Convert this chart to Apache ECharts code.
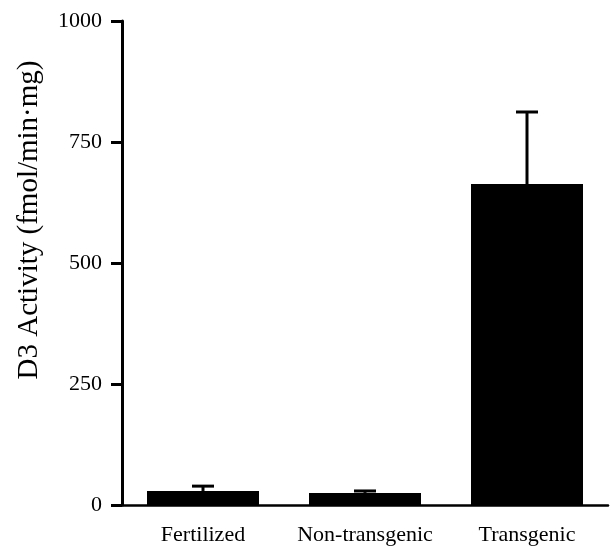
<!DOCTYPE html>
<html>
<head>
<meta charset="utf-8">
<script src="https://cdn.jsdelivr.net/npm/echarts@6/dist/echarts.min.js"></script>
<style>html,body{margin:0;padding:0;background:#fff}#c{width:616px;height:550px}</style>
</head>
<body>
<div id="c"></div>
<script>
var categories = ['Fertilized', 'Non-transgenic', 'Transgenic'];
var means = [29, 25, 663];
var errorTops = [39, 29, 812];
var yTicks = [0, 250, 500, 750, 1000];
var yTitle = 'D3 Activity (fmol/min\u00b7mg)';

var chart = echarts.init(document.getElementById('c'));
var font = 'Liberation Serif, Times New Roman, serif';
chart.setOption({
  animation: false,
  grid: {left: 122, right: 8, top: 21, bottom: 45},
  graphic: [{
    type: 'text', x: 29, y: 220, rotation: Math.PI / 2,
    style: {text: yTitle, fill: '#000', font: '29px ' + font, textAlign: 'center', textVerticalAlign: 'middle'}
  }],
  xAxis: {
    type: 'category', data: categories,
    axisLine: {lineStyle: {color: '#000', width: 2.5}},
    axisTick: {show: false},
    axisLabel: {color: '#000', fontFamily: font, fontSize: 22, margin: 19, interval: 0, hideOverlap: false}
  },
  yAxis: {
    type: 'value', min: 0, max: 1000, interval: 250,
    axisLine: {show: true, lineStyle: {color: '#000', width: 3}},
    axisTick: {show: true, length: 11, lineStyle: {color: '#000', width: 3}},
    splitLine: {show: false},
    axisLabel: {color: '#000', fontFamily: font, fontSize: 22, margin: 20,
      formatter: function (v) { return yTicks.indexOf(v) >= 0 ? String(v) : ''; }}
  },
  series: [
    {type: 'bar', data: means, barWidth: 112, itemStyle: {color: '#000'}, z: 2},
    {type: 'custom', z: 3,
     data: categories.map(function (c, i) { return [i, means[i], errorTops[i]]; }),
     renderItem: function (params, api) {
       var base = api.coord([api.value(0), api.value(1)]);
       var top = api.coord([api.value(0), api.value(2)]);
       var hw = 11;
       var style = {stroke: '#000', lineWidth: 3};
       return {type: 'group', children: [
         {type: 'line', shape: {x1: top[0], y1: base[1], x2: top[0], y2: top[1]}, style: style},
         {type: 'line', shape: {x1: top[0] - hw, y1: top[1], x2: top[0] + hw, y2: top[1]}, style: style}
       ]};
     }}
  ]
});
</script>
</body>
</html>
